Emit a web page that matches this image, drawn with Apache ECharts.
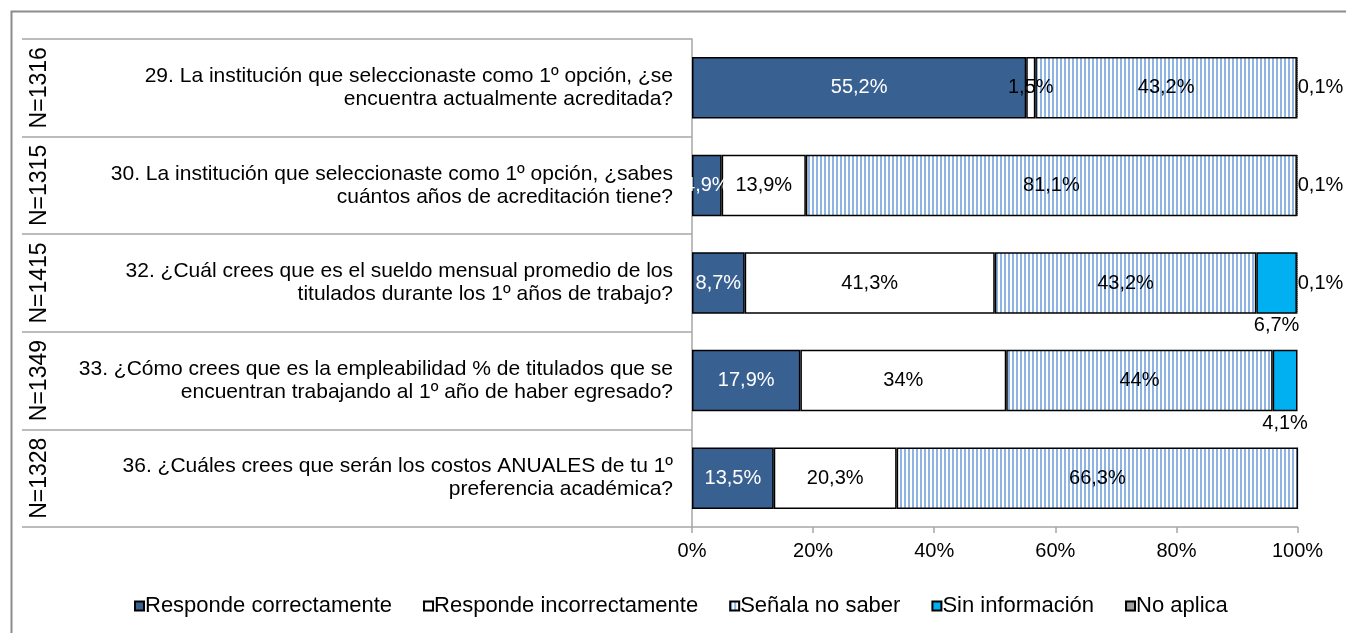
<!DOCTYPE html>
<html><head><meta charset="utf-8">
<script src="https://cdn.jsdelivr.net/npm/echarts@6/dist/echarts.min.js"></script>
<style>html,body{margin:0;padding:0;background:#fff}#c{width:1346px;height:633px}</style>
</head><body><div id="c"></div>
<script>
const questions = [
  '29. La institución que seleccionaste como 1º opción, ¿se\nencuentra actualmente acreditada?',
  '30. La institución que seleccionaste como 1º opción, ¿sabes\ncuántos años de acreditación tiene?',
  '32. ¿Cuál crees que es el sueldo mensual promedio de los\ntitulados durante los 1º años de trabajo?',
  '33. ¿Cómo crees que es la empleabilidad % de titulados que se\nencuentran trabajando al 1º año de haber egresado?',
  '36. ¿Cuáles crees que serán los costos ANUALES de tu 1º\npreferencia académica?'
];
const sampleSizes = ['N=1316', 'N=1315', 'N=1415', 'N=1349', 'N=1328'];
const seriesNames = ['Responde correctamente', 'Responde incorrectamente', 'Señala no saber', 'Sin información', 'No aplica'];
const correcto   = [55.2, 4.9, 8.7, 17.9, 13.5];
const incorrecto = [1.5, 13.9, 41.3, 34, 20.3];
const noSabe     = [43.2, 81.1, 43.2, 44, 66.3];
const sinInfo    = [0, 0, 6.7, 4.1, 0];
const noAplica   = [0.1, 0.1, 0.1, 0, 0];
const xMin = 0, xMax = 100, xStep = 20;

const FONT = 'Liberation Sans, Arial, sans-serif';
function stripePattern() {
  const c = document.createElement('canvas'); c.width = 4; c.height = 4;
  const g = c.getContext('2d');
  g.fillStyle = '#ffffff'; g.fillRect(0, 0, 4, 4);
  g.fillStyle = '#8DB4E2'; g.fillRect(0, 0, 2, 4);
  return c;
}
function dotPattern() {
  const c = document.createElement('canvas'); c.width = 2; c.height = 2;
  const g = c.getContext('2d');
  g.fillStyle = '#ffffff'; g.fillRect(0, 0, 2, 2);
  g.fillStyle = '#404040'; g.fillRect(0, 0, 1, 1); g.fillRect(1, 1, 1, 1);
  return c;
}
const fmt = v => (v === 0 || v == null || v === '-') ? '' : String(v).replace('.', ',') + '%';
const prep = arr => arr.map(v => v === 0 ? '-' : v);

function mk(name, data, itemStyle, label) {
  return {
    name, type: 'bar', stack: 'total', data: prep(data), barCategoryGap: '37%',
    itemStyle: Object.assign({ borderColor: '#000', borderWidth: 1.5 }, itemStyle),
    label: Object.assign({ show: true, fontSize: 20, fontFamily: FONT, color: '#000', formatter: p => fmt(p.value) }, label),
    emphasis: { disabled: true }
  };
}

const chart = echarts.init(document.getElementById('c'), null, { renderer: 'canvas' });
const gray = '#A6A6A6';
chart.setOption({
  animation: false,
  textStyle: { fontFamily: FONT },
  graphic: [{ type: 'rect', left: 9, top: 9, shape: { width: 1400, height: 700 },
    style: { fill: 'none', stroke: '#8C8C8C', lineWidth: 2 }, silent: true }],
  grid: { left: 692, right: 48.5, top: 39, bottom: 106, containLabel: false },
  legend: {
    top: 590, left: 129, itemWidth: 9, itemHeight: 9, itemGap: 31, icon: 'rect',
    textStyle: { fontSize: 22, fontFamily: FONT, color: '#000', padding: [0, 0, 0, -4] },
    data: seriesNames
  },
  xAxis: {
    type: 'value', min: xMin, max: xMax, interval: xStep,
    axisLine: { show: true, lineStyle: { color: gray, width: 1.5 } },
    axisTick: { show: true, length: 6, lineStyle: { color: gray, width: 1.5 } },
    splitLine: { show: false },
    axisLabel: { formatter: '{value}%', fontSize: 20, color: '#000', margin: 14, fontFamily: FONT }
  },
  yAxis: [{
    type: 'category', data: questions, inverse: true,
    axisLine: { show: true, lineStyle: { color: gray, width: 1.5 } },
    axisTick: { show: true, interval: 0, length: 625, lineStyle: { color: gray, width: 1.5 } },
    axisLabel: { interval: 0, fontSize: 21, color: '#000', margin: 19, lineHeight: 23, align: 'right', fontFamily: FONT }
  }, {
    type: 'category', data: sampleSizes, inverse: true, position: 'left', offset: 625,
    axisLine: { show: false },
    axisTick: { show: true, interval: 0, length: 45, lineStyle: { color: gray, width: 1.5 } },
    axisLabel: { interval: 0, rotate: 90, fontSize: 23, color: '#000', margin: 16, fontFamily: FONT }
  }],
  series: [
    mk(seriesNames[0], correcto, { color: '#386192' }, { position: 'inside', color: '#fff' }),
    mk(seriesNames[1], incorrecto, { color: '#ffffff' }, { position: 'inside' }),
    mk(seriesNames[2], noSabe, { color: { image: stripePattern(), repeat: 'repeat' } }, { position: 'inside' }),
    mk(seriesNames[3], sinInfo, { color: '#00B0F0' }, { position: 'bottom', distance: 2 }),
    mk(seriesNames[4], noAplica, { color: { image: dotPattern(), repeat: 'repeat' }, borderWidth: 1, borderType: 'dotted' }, { position: 'right', distance: 0 })
  ]
});
</script>
</body></html>
